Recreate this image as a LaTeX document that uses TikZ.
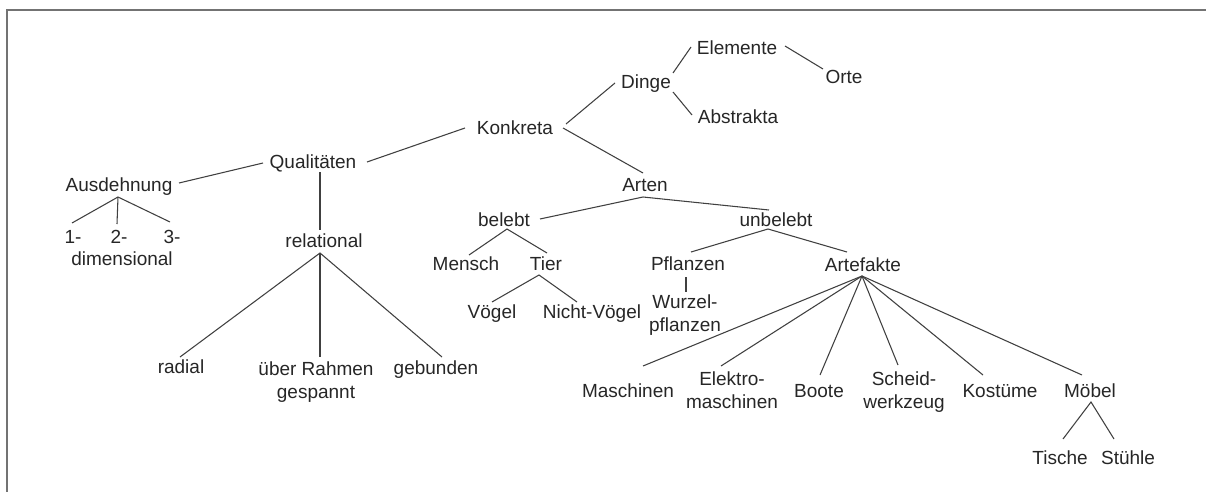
\documentclass[tikz,border=0pt]{standalone}
\usepackage{fontspec}
\setmainfont{Liberation Sans}
\begin{document}
\begin{tikzpicture}[x=0.75pt,y=-0.75pt,
  lbl/.style={inner sep=0pt, anchor=center, text=black!85,
    font=\fontsize{14.25pt}{17.25pt}\selectfont, text height=10.2pt, text depth=0pt},
  lbl2/.style={lbl, align=center, text height=27.45pt},
  link/.style={draw=black!75, line width=0.8pt}]
\useasboundingbox (0,0) rectangle (1206,492);
% frame
\draw[black!55, line width=1.5pt] (1206,10) -- (7,10) -- (7,492);

% labels
\node[lbl] (elem) at (737,48) {Elemente};
\node[lbl] (orte) at (844,77) {Orte};
\node[lbl] (ding) at (646,82) {Dinge};
\node[lbl] (abst) at (738,117) {Abstrakta};
\node[lbl] (konk) at (515,128) {Konkreta};
\node[lbl] (qual) at (313,162) {Qualitäten};
\node[lbl] (ausd) at (119,185) {Ausdehnung};
\node[lbl] (arten) at (645,185) {Arten};
\node[lbl] (d1) at (73,237) {1-};
\node[lbl] (d2) at (119,237) {2-};
\node[lbl] (d3) at (172,237) {3-};
\node[lbl] (dim) at (122,259) {dimensional};
\node[lbl] (rel) at (324,241) {relational};
\node[lbl] (bel) at (504,220) {belebt};
\node[lbl] (unbel) at (776,220) {unbelebt};
\node[lbl] (mensch) at (466,264) {Mensch};
\node[lbl] (tier) at (546,264) {Tier};
\node[lbl] (voeg) at (492,312) {Vögel};
\node[lbl] (nvoeg) at (592,312) {Nicht-Vögel};
\node[lbl] (pfl) at (688,264) {Pflanzen};
\node[lbl2] (wurz) at (685,313) {Wurzel-\\pflanzen};
\node[lbl] (artef) at (863,265) {Artefakte};
\node[lbl] (radial) at (181,367) {radial};
\node[lbl2] (rahmen) at (316,380) {über Rahmen\\gespannt};
\node[lbl] (gebunden) at (436,368) {gebunden};
\node[lbl] (masch) at (628,391) {Maschinen};
\node[lbl2] (elektro) at (732,390) {Elektro-\\maschinen};
\node[lbl] (boote) at (819,391) {Boote};
\node[lbl2] (scheid) at (904,390) {Scheid-\\werkzeug};
\node[lbl] (kost) at (1000,391) {Kostüme};
\node[lbl] (moebel) at (1090,391) {Möbel};
\node[lbl] (tische) at (1060,458) {Tische};
\node[lbl] (stuehle) at (1128,458) {Stühle};

% connectors
\draw[link] ([shift={(54,0)}]qual.center) -- ([shift={(-50,0)}]konk.center);
\draw[link] ([shift={(60,-2)}]ausd.center) -- ([shift={(-50,1)}]qual.center);
\draw[link] ([shift={(-1,-14)}]d1.center) -- ([shift={(-1,12)}]ausd.center) -- ([shift={(-2,-15)}]d3.center);
\draw[link] ([shift={(-1,12)}]ausd.center) -- ([shift={(-2,-13)}]d2.center);
\draw[link] ([shift={(7,10)}]qual.center) -- ([shift={(-4,-11)}]rel.center);
\draw[link] ([shift={(-1,-10)}]radial.center) -- ([shift={(-4,12)}]rel.center) -- ([shift={(6,-11)}]gebunden.center);
\draw[link] ([shift={(-4,12)}]rel.center) -- ([shift={(4,-23)}]rahmen.center);
\draw[link] ([shift={(51,-4)}]konk.center) -- ([shift={(-31,1)}]ding.center);
\draw[link] ([shift={(27,-9)}]ding.center) -- ([shift={(-46,-1)}]elem.center);
\draw[link] ([shift={(27,10)}]ding.center) -- ([shift={(-46,-2)}]abst.center);
\draw[link] ([shift={(48,-2)}]elem.center) -- ([shift={(-21,-8)}]orte.center);
\draw[link] ([shift={(48,0)}]konk.center) -- ([shift={(-2,-12)}]arten.center);
\draw[link] ([shift={(36,-1)}]bel.center) -- ([shift={(-2,12)}]arten.center) -- ([shift={(-7,-10)}]unbel.center);
\draw[link] ([shift={(3,-9)}]mensch.center) -- ([shift={(3,9)}]bel.center) -- ([shift={(1,-11)}]tier.center);
\draw[link] ([shift={(0,-10)}]voeg.center) -- ([shift={(-7,11)}]tier.center) -- ([shift={(-15,-10)}]nvoeg.center);
\draw[link] ([shift={(3,-12)}]pfl.center) -- ([shift={(-8,9)}]unbel.center) -- ([shift={(-16,-13)}]artef.center);
\draw[link] ([shift={(-2,13)}]pfl.center) -- ([shift={(1,-21)}]wurz.center);
\draw[link] ([shift={(-1,11)}]artef.center) -- ([shift={(15,-25)}]masch.center);
\draw[link] ([shift={(-1,11)}]artef.center) -- ([shift={(-11,-24)}]elektro.center);
\draw[link] ([shift={(-1,11)}]artef.center) -- ([shift={(1,-16)}]boote.center);
\draw[link] ([shift={(-1,11)}]artef.center) -- ([shift={(-6,-25)}]scheid.center);
\draw[link] ([shift={(-1,11)}]artef.center) -- ([shift={(-17,-16)}]kost.center);
\draw[link] ([shift={(-1,11)}]artef.center) -- ([shift={(-8,-16)}]moebel.center);
\draw[link] ([shift={(3,-19)}]tische.center) -- ([shift={(1,11)}]moebel.center) -- ([shift={(-14,-19)}]stuehle.center);
\end{tikzpicture}
\end{document}
